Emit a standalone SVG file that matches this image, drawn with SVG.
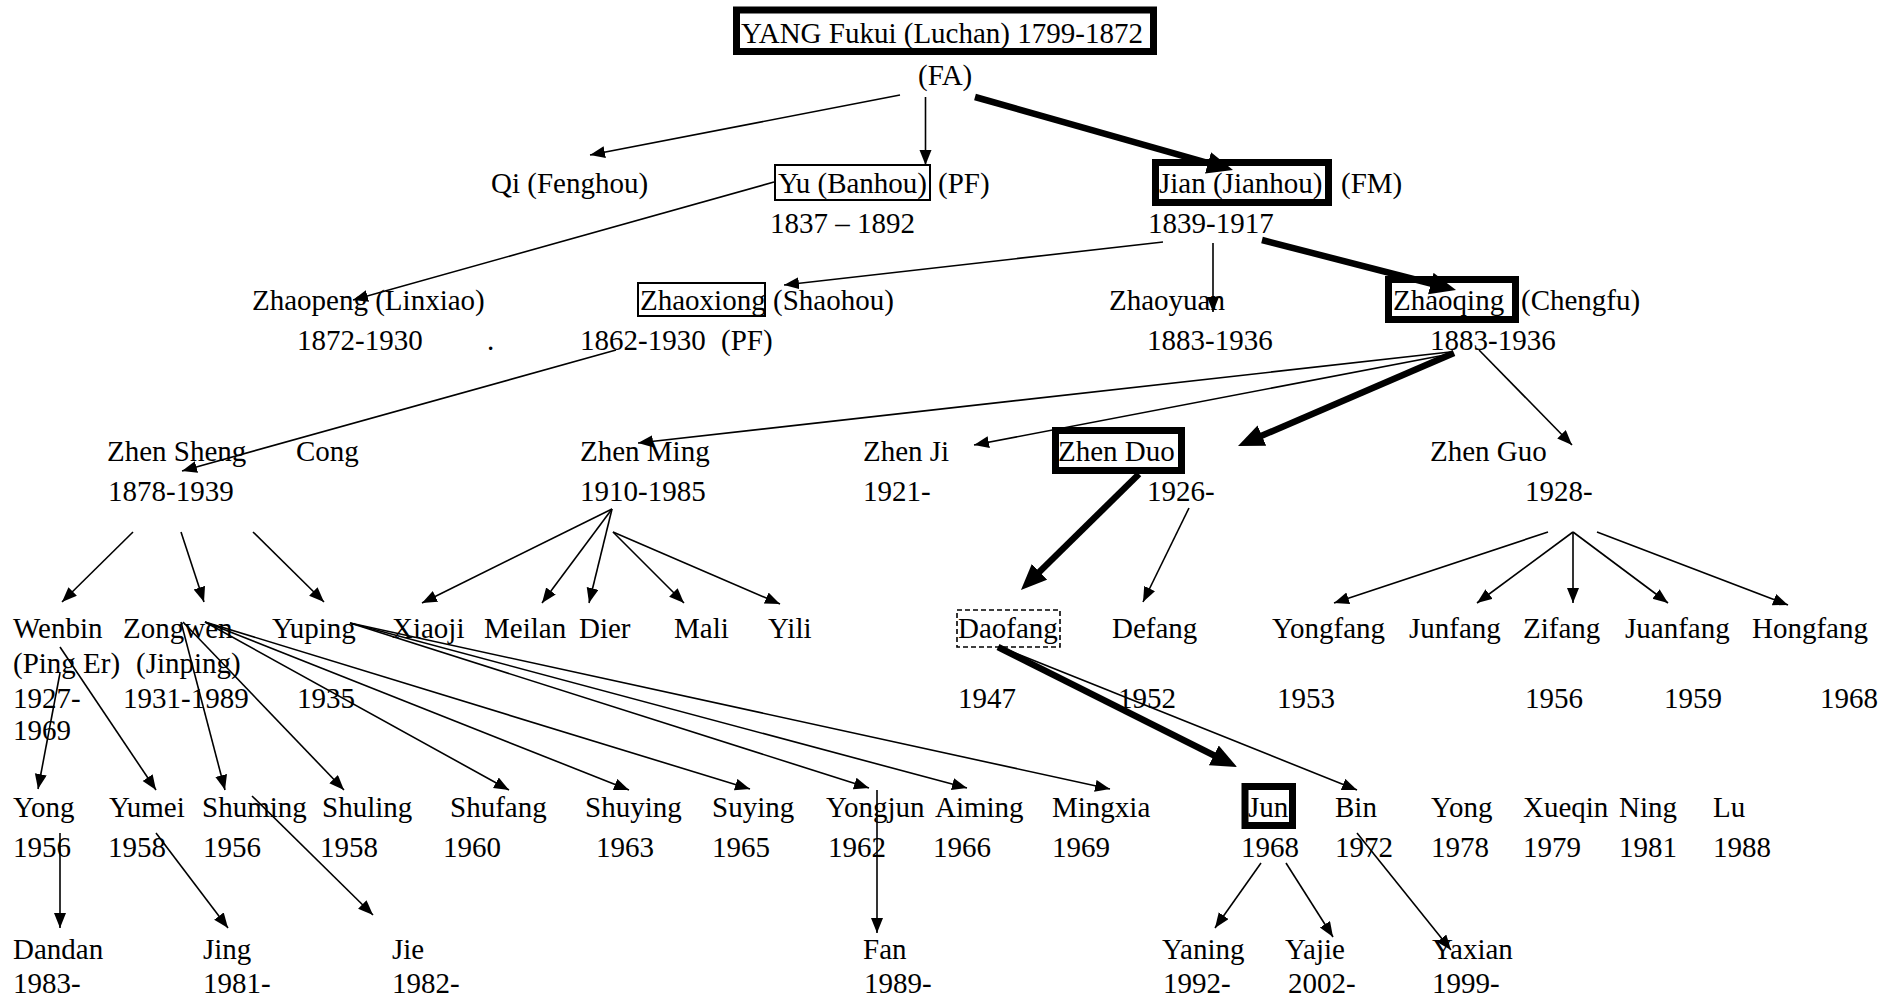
<svg xmlns="http://www.w3.org/2000/svg" width="1899" height="1001" viewBox="0 0 1899 1001">
<style>
text{font-family:"Liberation Serif","Times New Roman",serif;font-size:29px;fill:#000}
.ln{stroke:#000;stroke-width:1.6;fill:none;marker-end:url(#ah)}
.lb{stroke:#000;stroke-width:6.5;fill:none;marker-end:url(#ahb)}
.bx{fill:none;stroke:#000;stroke-width:2}
.bb{fill:none;stroke:#000;stroke-width:7}
.bd{fill:none;stroke:#000;stroke-width:1.6;stroke-dasharray:5 3}
</style>
<defs>
<marker id="ah" markerUnits="userSpaceOnUse" markerWidth="16" markerHeight="13" refX="15" refY="6" orient="auto"><path d="M0,0 L15,6 L0,12 z" fill="#000"/></marker>
<marker id="ahb" markerUnits="userSpaceOnUse" markerWidth="28" markerHeight="24" refX="16" refY="11" orient="auto"><path d="M0,0 L26,11 L0,22 z" fill="#000"/></marker>
</defs>
<rect width="1899" height="1001" fill="#fff"/>

<g id="connectors">
<line class="lb" x1="975" y1="97" x2="1223.4" y2="167.3"/>
<line class="lb" x1="1262" y1="240" x2="1446.3" y2="287.5"/>
<line class="lb" x1="1454" y1="353" x2="1247.2" y2="442"/>
<line class="lb" x1="1139" y1="474" x2="1028.1" y2="583"/>
<line class="lb" x1="998" y1="647" x2="1228.1" y2="762.5"/>

<line class="ln" x1="900" y1="95" x2="590" y2="155"/>
<line class="ln" x1="925.5" y1="97" x2="925.5" y2="165"/>
<line class="ln" x1="774" y1="182" x2="353" y2="300"/>
<line class="ln" x1="1163" y1="242" x2="784" y2="285"/>
<line class="ln" x1="1213" y1="243" x2="1213" y2="312"/>
<line class="ln" x1="616" y1="350" x2="182" y2="471"/>
<line class="ln" x1="1450" y1="352" x2="638" y2="443"/>
<line class="ln" x1="1450" y1="354" x2="974" y2="445"/>
<line class="ln" x1="1479" y1="350" x2="1572" y2="445"/>
<line class="ln" x1="133" y1="532" x2="62" y2="602"/>
<line class="ln" x1="181" y1="532" x2="204" y2="602"/>
<line class="ln" x1="253" y1="532" x2="324" y2="602"/>
<line class="ln" x1="612" y1="509" x2="422" y2="603"/>
<line class="ln" x1="612" y1="509" x2="542" y2="603"/>
<line class="ln" x1="612" y1="509" x2="589" y2="603"/>
<line class="ln" x1="613" y1="532" x2="684" y2="603"/>
<line class="ln" x1="613" y1="532" x2="780" y2="604"/>
<line class="ln" x1="1189" y1="508" x2="1143" y2="602"/>
<line class="ln" x1="1548" y1="532" x2="1334" y2="603"/>
<line class="ln" x1="1573" y1="532" x2="1477" y2="603"/>
<line class="ln" x1="1573" y1="532" x2="1573" y2="603"/>
<line class="ln" x1="1573" y1="532" x2="1668" y2="603"/>
<line class="ln" x1="1597" y1="532" x2="1788" y2="605"/>
<line class="ln" x1="1000" y1="647" x2="1357" y2="790"/>
<line class="ln" x1="60" y1="673" x2="38" y2="789"/>
<line class="ln" x1="60" y1="647" x2="156" y2="790"/>
<line class="ln" x1="181" y1="622" x2="225" y2="790"/>
<line class="ln" x1="183" y1="622" x2="344" y2="790"/>
<line class="ln" x1="205" y1="622" x2="509" y2="790"/>
<line class="ln" x1="205" y1="622" x2="629" y2="790"/>
<line class="ln" x1="205" y1="622" x2="750" y2="789"/>
<line class="ln" x1="350" y1="623" x2="869" y2="788"/>
<line class="ln" x1="350" y1="623" x2="967" y2="788"/>
<line class="ln" x1="350" y1="623" x2="1110" y2="789"/>
<line class="ln" x1="60" y1="833" x2="60" y2="928"/>
<line class="ln" x1="156" y1="833" x2="228" y2="928"/>
<line class="ln" x1="252" y1="796" x2="373" y2="915"/>
<line class="ln" x1="877" y1="790" x2="877" y2="933"/>
<line class="ln" x1="1261" y1="863" x2="1215" y2="928"/>
<line class="ln" x1="1286" y1="863" x2="1333" y2="937"/>
<line class="ln" x1="1357" y1="833" x2="1451" y2="950"/>
</g>

<g id="n-yang"><rect class="bb" x="736.5" y="10" width="417" height="41.5"/><text x="741" y="43">YANG Fukui (Luchan) 1799-1872</text><text x="918" y="85">(FA)</text></g>
<g id="n-qi"><text x="491" y="193">Qi (Fenghou)</text></g>
<g id="n-yu"><rect class="bx" x="775" y="165" width="155" height="35"/><text x="778" y="193">Yu (Banhou)</text><text x="938" y="193">(PF)</text><text x="770" y="233">1837 – 1892</text></g>
<g id="n-jian"><rect class="bb" x="1155.5" y="162.5" width="173" height="40"/><text x="1159" y="193">Jian (Jianhou)</text><text x="1341" y="193">(FM)</text><text x="1148" y="233">1839-1917</text></g>

<g id="n-zhaopeng"><text x="252" y="310">Zhaopeng (Linxiao)</text><text x="297" y="350">1872-1930</text><text x="487" y="350">.</text></g>
<g id="n-zhaoxiong"><rect class="bx" x="638" y="283" width="127" height="33"/><text x="640" y="310">Zhaoxiong</text><text x="773" y="310">(Shaohou)</text><text x="580" y="350">1862-1930</text><text x="721" y="350">(PF)</text></g>
<g id="n-zhaoyuan"><text x="1109" y="310">Zhaoyuan</text><text x="1147" y="350">1883-1936</text></g>
<g id="n-zhaoqing"><rect class="bb" x="1388.5" y="279.5" width="127" height="40"/><text x="1393" y="310">Zhaoqing</text><text x="1521" y="310">(Chengfu)</text><text x="1430" y="350">1883-1936</text></g>

<g id="n-zhensheng"><text x="107" y="461">Zhen Sheng</text><text x="108" y="501">1878-1939</text></g>
<g id="n-cong"><text x="296" y="461">Cong</text></g>
<g id="n-zhenming"><text x="580" y="461">Zhen Ming</text><text x="580" y="501">1910-1985</text></g>
<g id="n-zhenji"><text x="863" y="461">Zhen Ji</text><text x="863" y="501">1921-</text></g>
<g id="n-zhenduo"><rect class="bb" x="1055.5" y="430.5" width="126" height="40"/><text x="1058" y="461">Zhen Duo</text><text x="1147" y="501">1926-</text></g>
<g id="n-zhenguo"><text x="1430" y="461">Zhen Guo</text><text x="1525" y="501">1928-</text></g>

<g id="n-wenbin"><text x="13" y="638">Wenbin</text><text x="13" y="673">(Ping Er)</text><text x="13" y="708">1927-</text><text x="13" y="740">1969</text></g>
<g id="n-zongwen"><text x="123" y="638">Zongwen</text><text x="136" y="673">(Jinping)</text><text x="123" y="708">1931-1989</text></g>
<g id="n-yuping"><text x="272" y="638">Yuping</text><text x="297" y="708">1935</text></g>
<g id="n-xiaoji"><text x="392" y="638">Xiaoji</text></g>
<g id="n-meilan"><text x="484" y="638">Meilan</text></g>
<g id="n-dier"><text x="579" y="638">Dier</text></g>
<g id="n-mali"><text x="674" y="638">Mali</text></g>
<g id="n-yili"><text x="768" y="638">Yili</text></g>
<g id="n-daofang"><rect class="bd" x="957" y="610" width="103" height="37"/><text x="958" y="638">Daofang</text><text x="958" y="708">1947</text></g>
<g id="n-defang"><text x="1112" y="638">Defang</text><text x="1118" y="708">1952</text></g>
<g id="n-yongfang"><text x="1272" y="638">Yongfang</text><text x="1277" y="708">1953</text></g>
<g id="n-junfang"><text x="1409" y="638">Junfang</text></g>
<g id="n-zifang"><text x="1523" y="638">Zifang</text><text x="1525" y="708">1956</text></g>
<g id="n-juanfang"><text x="1625" y="638">Juanfang</text><text x="1664" y="708">1959</text></g>
<g id="n-hongfang"><text x="1752" y="638">Hongfang</text><text x="1820" y="708">1968</text></g>

<g id="n-yong1"><text x="13" y="817">Yong</text><text x="13" y="857">1956</text></g>
<g id="n-yumei"><text x="109" y="817">Yumei</text><text x="108" y="857">1958</text></g>
<g id="n-shuming"><text x="202" y="817">Shuming</text><text x="203" y="857">1956</text></g>
<g id="n-shuling"><text x="322" y="817">Shuling</text><text x="320" y="857">1958</text></g>
<g id="n-shufang"><text x="450" y="817">Shufang</text><text x="443" y="857">1960</text></g>
<g id="n-shuying"><text x="585" y="817">Shuying</text><text x="596" y="857">1963</text></g>
<g id="n-suying"><text x="712" y="817">Suying</text><text x="712" y="857">1965</text></g>
<g id="n-yongjun"><text x="826" y="817">Yongjun</text><text x="828" y="857">1962</text></g>
<g id="n-aiming"><text x="935" y="817">Aiming</text><text x="933" y="857">1966</text></g>
<g id="n-mingxia"><text x="1052" y="817">Mingxia</text><text x="1052" y="857">1969</text></g>
<g id="n-jun"><rect class="bb" x="1245" y="786.5" width="47.5" height="39"/><text x="1248" y="817">Jun</text><text x="1241" y="857">1968</text></g>
<g id="n-bin"><text x="1335" y="817">Bin</text><text x="1335" y="857">1972</text></g>
<g id="n-yong2"><text x="1431" y="817">Yong</text><text x="1431" y="857">1978</text></g>
<g id="n-xueqin"><text x="1523" y="817">Xueqin</text><text x="1523" y="857">1979</text></g>
<g id="n-ning"><text x="1619" y="817">Ning</text><text x="1619" y="857">1981</text></g>
<g id="n-lu"><text x="1713" y="817">Lu</text><text x="1713" y="857">1988</text></g>

<g id="n-dandan"><text x="13" y="959">Dandan</text><text x="13" y="993">1983-</text></g>
<g id="n-jing"><text x="203" y="959">Jing</text><text x="203" y="993">1981-</text></g>
<g id="n-jie"><text x="392" y="959">Jie</text><text x="392" y="993">1982-</text></g>
<g id="n-fan"><text x="863" y="959">Fan</text><text x="864" y="993">1989-</text></g>
<g id="n-yaning"><text x="1162" y="959">Yaning</text><text x="1163" y="993">1992-</text></g>
<g id="n-yajie"><text x="1285" y="959">Yajie</text><text x="1288" y="993">2002-</text></g>
<g id="n-yaxian"><text x="1432" y="959">Yaxian</text><text x="1432" y="993">1999-</text></g>
</svg>
